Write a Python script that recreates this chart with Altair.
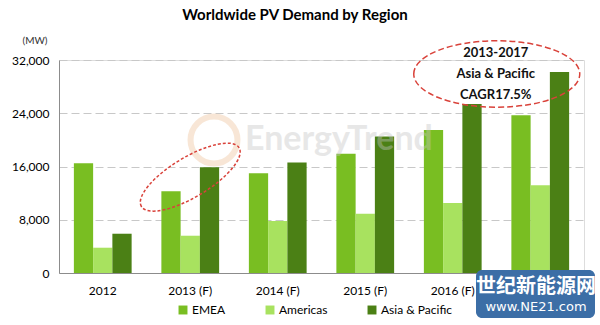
import altair as alt
import pandas as pd

years = ["2012", "2013 (F)", "2014 (F)", "2015 (F)", "2016 (F)", "2017 (F)"]
regions = ["EMEA", "Americas", "Asia & Pacific"]
emea = [16500, 12300, 15000, 17900, 21500, 23700]
americas = [3800, 5600, 7800, 8900, 10500, 13200]
asia = [5900, 15900, 16600, 20500, 25400, 30200]
colors = ["#79BE22", "#A8E25F", "#4B8015"]
y_ticks = [0, 8000, 16000, 24000, 32000]

note_lines = ["2013-2017", "Asia & Pacific", "CAGR17.5%"]
note_mw = [33050, 29900, 26750]

FONT = "Lato"

rows = []
for reg, vals in zip(regions, [emea, americas, asia]):
    for yr, v in zip(years, vals):
        rows.append({"year": yr, "region": reg, "mw": v})
df = pd.DataFrame(rows)

xenc = alt.X(
    "year:N", sort=years,
    scale=alt.Scale(domain=years, paddingInner=0.34, paddingOuter=0.17),
    axis=alt.Axis(title=None, labelAngle=0, ticks=False, labelPadding=12,
                  labelFontSize=12, labelColor="#000", labelFont=FONT,
                  domainColor="#8C8C8C", grid=False),
)
yenc = alt.Y(
    "mw:Q",
    scale=alt.Scale(domain=[0, 32000], nice=False),
    axis=alt.Axis(values=y_ticks, format=",d", title="(MW)", titleAngle=0,
                  titleAlign="left", titleBaseline="middle", titleX=-37, titleY=-20,
                  titleFontSize=10, titleFontWeight="normal", titleColor="#333",
                  titleFont=FONT, labelPadding=10, ticks=False, grid=True,
                  gridDash=[8, 4], gridColor="#C8C8C8", domainColor="#8C8C8C",
                  labelFontSize=12, labelColor="#000", labelFont=FONT),
)

bars = alt.Chart(df).mark_bar().encode(
    x=xenc,
    y=yenc,
    xOffset=alt.XOffset("region:N", sort=regions),
    color=alt.Color("region:N", sort=regions,
                    scale=alt.Scale(domain=regions, range=colors),
                    legend=alt.Legend(title=None, orient="none", legendX=118, legendY=244,
                                      direction="horizontal", symbolType="square",
                                      symbolSize=80, symbolStrokeWidth=0,
                                      labelFontSize=12, labelFont=FONT, labelColor="#000",
                                      columnPadding=38, labelOffset=3)),
)

ell1_path = "M -1 0 A 1 0.35 0 1 1 1 0 A 1 0.35 0 1 1 -1 0 Z"
ell2_path = "M -1 0 A 1 0.4 0 1 1 1 0 A 1 0.4 0 1 1 -1 0 Z"

ell1 = alt.Chart(pd.DataFrame({"year": ["2013 (F)"], "mw": [14400]})).mark_point(
    shape=ell1_path, size=12996, angle=329, filled=False, stroke="#D9423A",
    strokeWidth=1.5, strokeDash=[3, 2], opacity=1,
).encode(x=alt.X("year:N", sort=years), y="mw:Q")

ell2 = alt.Chart(pd.DataFrame({"year": ["2016 (F)"], "mw": [29900]})).mark_point(
    shape=ell2_path, size=27556, filled=False, stroke="#D9423A",
    strokeWidth=1.5, strokeDash=[6, 3], xOffset=44, opacity=1,
).encode(x=alt.X("year:N", sort=years), y="mw:Q")

note = alt.Chart(pd.DataFrame({"year": ["2016 (F)"] * 3, "mw": note_mw, "t": note_lines})).mark_text(
    font=FONT, fontSize=13, fontWeight="bold", color="#111", xOffset=43, baseline="middle",
).encode(x=alt.X("year:N", sort=years), y="mw:Q", text="t:N")

title = alt.Chart(pd.DataFrame({"t": ["Worldwide PV Demand by Region"]})).mark_text(
    font=FONT, fontSize=15, fontWeight="bold", color="#000", baseline="middle",
).encode(x=alt.value(236), y=alt.value(-45), text="t:N")

wm_ring = alt.Chart(pd.DataFrame({"k": [0]})).mark_point(
    shape="circle", size=2200, filled=False, stroke="#F2CFAE", strokeWidth=6, opacity=0.5,
).encode(x=alt.value(155), y=alt.value(80))

wm_text = alt.Chart(pd.DataFrame({"t": ["EnergyTrend"]})).mark_text(
    font=FONT, fontSize=34, fontWeight="bold", color="#C4C4C4", opacity=0.4,
    align="left", baseline="middle",
).encode(x=alt.value(186), y=alt.value(80), text="t:N")

badge = alt.Chart(pd.DataFrame({"k": [0]})).mark_rect(
    color="#3C6EA6", cornerRadius=6,
).encode(x=alt.value(417), x2=alt.value(536), y=alt.value(210), y2=alt.value(258))

badge_cn = alt.Chart(pd.DataFrame({"t": ["世纪新能源网"]})).mark_text(
    font="Noto Sans CJK SC", fontSize=20, fontWeight="bold", color="white",
).encode(x=alt.value(477), y=alt.value(227), text="t:N")

badge_en = alt.Chart(pd.DataFrame({"t": ["www.NE21.com"]})).mark_text(
    font="DejaVu Sans", fontSize=13, color="white",
).encode(x=alt.value(477), y=alt.value(247), text="t:N")

chart = alt.layer(
    bars, wm_ring, wm_text, ell1, ell2, note, title, badge, badge_cn, badge_en
).properties(
    width=525, height=213,
    autosize=alt.AutoSizeParams(type="none"),
    padding={"left": 59, "top": 60, "right": 16, "bottom": 52},
).configure_view(strokeWidth=0).configure(background="white")

chart.save("out.html", embed_options={"renderer": "svg", "actions": False})
